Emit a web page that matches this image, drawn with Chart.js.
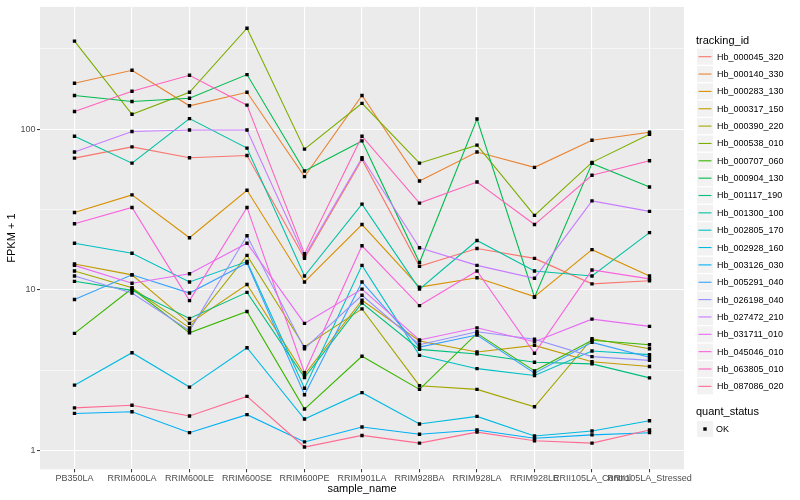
<!DOCTYPE html>
<html>
<head>
<meta charset="utf-8">
<script src="https://cdn.jsdelivr.net/npm/chart.js@4.4.1/dist/chart.umd.min.js"></script>
<style>
  html, body { margin: 0; padding: 0; background: #ffffff; }
  #wrap { width: 800px; height: 500px; }
</style>
</head>
<body>
<div id="wrap"><canvas id="fpkmChart" width="800" height="500"></canvas></div>
<script>
// sample names on the x axis
const sampleNames = ['PB350LA', 'RRIM600LA', 'RRIM600LE', 'RRIM600SE', 'RRIM600PE', 'RRIM901LA',
  'RRIM928BA', 'RRIM928LA', 'RRIM928LE', 'RRII105LA_Control', 'RRII105LA_Stressed'];

const trackingIds = ['Hb_000045_320', 'Hb_000140_330', 'Hb_000283_130', 'Hb_000317_150', 'Hb_000390_220',
  'Hb_000538_010', 'Hb_000707_060', 'Hb_000904_130', 'Hb_001117_190', 'Hb_001300_100',
  'Hb_002805_170', 'Hb_002928_160', 'Hb_003126_030', 'Hb_005291_040', 'Hb_026198_040',
  'Hb_027472_210', 'Hb_031711_010', 'Hb_045046_010', 'Hb_063805_010', 'Hb_087086_020'];

// FPKM + 1 per sample
const hb_000045_320 = [66.1, 77.7, 66.4, 68.7, 15.7, 64.9, 14.0, 18.1, 15.7, 10.9, 11.4];
const hb_000140_330 = [193.6, 233, 140, 170, 50.7, 162.4, 47.6, 72.1, 57.9, 85.5, 95.8];
const hb_000283_130 = [30.3, 39.0, 21.1, 41.7, 11.2, 25.5, 10.4, 11.9, 9.08, 17.8, 12.2];
const hb_000317_150 = [14.5, 12.4, 6.18, 10.8, 2.96, 8.61, 4.80, 4.10, 4.51, 3.57, 3.33];
const hb_000390_220 = [13.1, 10.3, 5.80, 16.4, 4.42, 7.61, 2.53, 2.40, 1.87, 4.96, 4.30];
const hb_000538_010 = [354, 124, 170, 426, 75.2, 145, 61.5, 79.6, 29.1, 62.2, 93.1];
const hb_000707_060 = [5.36, 10.2, 5.40, 7.33, 1.81, 3.86, 2.40, 5.36, 3.13, 4.85, 4.55];
const hb_000904_130 = [162.4, 149, 156, 219, 55, 84.6, 14.8, 115.8, 8.99, 61.3, 43.7];
const hb_001117_190 = [11.3, 9.93, 6.63, 9.65, 2.84, 8.28, 4.26, 3.99, 3.54, 3.46, 2.83];
const hb_001300_100 = [90.5, 61.5, 116.5, 76.3, 12.2, 34.2, 10.1, 20.3, 13.1, 12.2, 22.7];
const hb_002805_170 = [19.5, 16.9, 11.2, 15.0, 2.44, 14.2, 3.91, 3.23, 2.93, 4.16, 3.95];
const hb_002928_160 = [2.55, 4.06, 2.48, 4.36, 1.57, 2.29, 1.46, 1.63, 1.23, 1.32, 1.53];
const hb_003126_030 = [1.70, 1.74, 1.29, 1.67, 1.13, 1.40, 1.26, 1.34, 1.19, 1.25, 1.29];
const hb_005291_040 = [8.70, 12.4, 9.55, 14.7, 2.22, 11.2, 4.40, 5.23, 3.03, 4.71, 3.80];
const hb_026198_040 = [12.2, 9.55, 5.56, 21.7, 4.30, 9.25, 4.55, 5.48, 4.92, 3.84, 3.64];
const hb_027472_210 = [72.1, 96.8, 99.0, 99.0, 16.2, 66.4, 18.3, 14.2, 11.8, 35.8, 30.8];
const hb_031711_010 = [14.2, 11.0, 12.6, 19.5, 6.18, 10.1, 4.87, 5.80, 4.75, 6.57, 5.92];
const hb_045046_010 = [25.8, 32.6, 8.57, 32.6, 3.05, 18.8, 7.98, 13.1, 4.03, 13.3, 11.7];
const hb_063805_010 = [129, 172.6, 217, 141.3, 16.8, 90.5, 34.7, 46.9, 25.5, 51.7, 63.6];
const hb_087086_020 = [1.84, 1.91, 1.64, 2.17, 1.05, 1.24, 1.11, 1.30, 1.15, 1.11, 1.34];

const yMajorTicks = [1, 10, 100];
const yMinorTicks = [3.1623, 31.623, 316.23];

const series = [hb_000045_320, hb_000140_330, hb_000283_130, hb_000317_150, hb_000390_220,
  hb_000538_010, hb_000707_060, hb_000904_130, hb_001117_190, hb_001300_100,
  hb_002805_170, hb_002928_160, hb_003126_030, hb_005291_040, hb_026198_040,
  hb_027472_210, hb_031711_010, hb_045046_010, hb_063805_010, hb_087086_020];

// ggplot default hue palette for 20 groups
const lineColors = ['#F8766D', '#EA8331', '#D89000', '#C09B00', '#A3A500', '#7CAE00', '#39B600',
  '#00BB4E', '#00BF7D', '#00C1A3', '#00BFC4', '#00BAE0', '#00B0F6', '#35A2FF', '#9590FF',
  '#C77CFF', '#E76BF3', '#FA62DB', '#FF62BC', '#FF6C91'];

const FONT = 'Liberation Sans, Arial, Helvetica, sans-serif';

const lineSets = series.map((vals, k) => ({
  type: 'line',
  label: trackingIds[k],
  data: vals.map((v, i) => ({ x: i, y: v })),
  borderColor: lineColors[k],
  borderWidth: 1.1,
  pointRadius: 0,
  fill: false,
  tension: 0,
  order: 100 - k // later ids on top, like ggplot
}));

// all points in one layer, drawn above every line
const pointSet = {
  type: 'scatter',
  label: 'OK',
  data: series.flatMap(vals => vals.map((v, i) => ({ x: i, y: v }))),
  backgroundColor: '#000000',
  borderWidth: 0,
  pointStyle: 'rect',
  pointRadius: 2.4,
  order: 0
};

// grey panel behind the grid
const panelBg = {
  id: 'panelBg',
  beforeDraw(chart) {
    const { ctx, chartArea: a } = chart;
    ctx.save();
    ctx.fillStyle = '#EBEBEB';
    ctx.fillRect(a.left, a.top, a.right - a.left, a.bottom - a.top);
    ctx.restore();
  }
};

// ggplot-like legends on the right
const ggLegend = {
  id: 'ggLegend',
  afterDraw(chart) {
    const ctx = chart.ctx;
    const x0 = 696, keyW = 16, rowH = 17.35;
    ctx.save();
    ctx.textBaseline = 'middle';
    ctx.textAlign = 'left';
    ctx.fillStyle = '#000000';
    ctx.font = '11px ' + FONT;
    ctx.fillText('tracking_id', x0, 40.5);
    ctx.font = '9px ' + FONT;
    trackingIds.forEach((id, k) => {
      const yc = 56.7 + k * rowH;
      ctx.fillStyle = '#F2F2F2';
      ctx.fillRect(x0 + 1, yc - keyW / 2, keyW, keyW);
      ctx.strokeStyle = lineColors[k];
      ctx.lineWidth = 1.1;
      ctx.beginPath();
      ctx.moveTo(x0 + 2.5, yc);
      ctx.lineTo(x0 + keyW - 0.5, yc);
      ctx.stroke();
      ctx.fillStyle = '#000000';
      ctx.fillText(id, x0 + 21, yc + 0.5);
    });
    ctx.font = '11px ' + FONT;
    ctx.fillText('quant_status', x0, 412.3);
    const yk = 429;
    ctx.fillStyle = '#F2F2F2';
    ctx.fillRect(x0 + 1, yk - keyW / 2, keyW, keyW);
    ctx.fillStyle = '#000000';
    ctx.fillRect(x0 + 9 - 1.7, yk - 1.7, 3.4, 3.4);
    ctx.font = '9px ' + FONT;
    ctx.fillText('OK', x0 + 20, yk + 0.5);
    ctx.restore();
  }
};

const ctx = document.getElementById('fpkmChart').getContext('2d');
const fpkmChart = new Chart(ctx, {
  data: { datasets: [...lineSets, pointSet] },
  options: {
    responsive: false,
    animation: false,
    events: [],
    layout: { padding: { left: 0, top: 5, right: 116, bottom: 0 } },
    plugins: {
      legend: { display: false },
      tooltip: { enabled: false }
    },
    scales: {
      x: {
        type: 'linear',
        min: -0.6,
        max: 10.6,
        afterBuildTicks: (axis) => { axis.ticks = sampleNames.map((_, i) => ({ value: i })); },
        afterFit: (axis) => { axis.height = 30.7; },
        ticks: {
          autoSkip: false,
          maxRotation: 0,
          minRotation: 0,
          padding: 1,
          color: '#4D4D4D',
          font: { family: FONT, size: 9 },
          callback: (v) => sampleNames[v]
        },
        grid: { color: '#FFFFFF', lineWidth: 1.1, tickLength: 3, tickColor: '#333333', tickWidth: 1 },
        border: { display: false },
        title: {
          display: true,
          text: 'sample_name',
          color: '#000000',
          font: { family: FONT, size: 11 },
          padding: { top: 0, bottom: 4 }
        }
      },
      y: {
        type: 'logarithmic',
        min: 0.763,
        max: 578,
        afterBuildTicks: (axis) => {
          axis.ticks = [...yMajorTicks, ...yMinorTicks].sort((a, b) => a - b).map(v => ({ value: v }));
        },
        afterFit: (axis) => { axis.width = 40; },
        ticks: {
          padding: 1.5,
          color: '#4D4D4D',
          font: { family: FONT, size: 9 },
          callback: (v) => (yMajorTicks.includes(v) ? String(v) : '')
        },
        grid: {
          color: '#FFFFFF',
          lineWidth: (c) => (yMajorTicks.includes(c.tick.value) ? 1.1 : 0.55),
          tickLength: 3,
          tickColor: (c) => (yMajorTicks.includes(c.tick.value) ? '#333333' : 'rgba(0,0,0,0)'),
          tickWidth: 1
        },
        border: { display: false },
        title: {
          display: true,
          text: 'FPKM + 1',
          color: '#000000',
          font: { family: FONT, size: 11 },
          padding: { top: 5.4, bottom: 0 }
        }
      }
    }
  },
  plugins: [panelBg, ggLegend]
});
</script>
</body>
</html>
